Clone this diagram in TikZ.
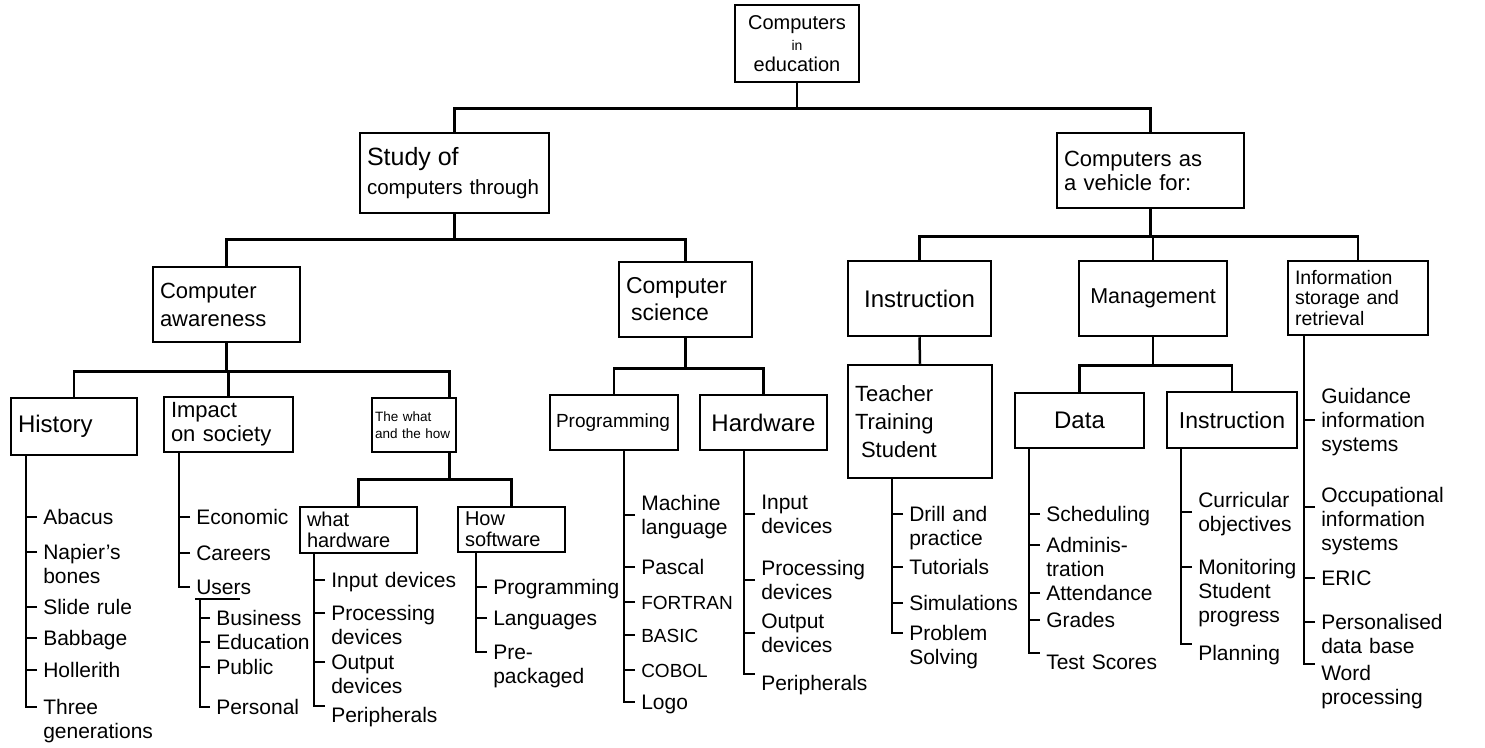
\documentclass[tikz,border=0pt]{standalone}
\usepackage{fontspec}
\setmainfont{Liberation Sans}
\usepackage{tikz}
\tikzstyle{box} = [draw, inner xsep=7pt, inner ysep=3pt, align=left, font=\fontsize{22}{24}\selectfont]
\tikzstyle{leaf} = [anchor=base west, inner sep=0pt, text width=150pt, align=left, font=\fontsize{21}{24}\selectfont]
\tikzstyle{caps} = [leaf, font=\fontsize{19}{24}\selectfont]
\tikzstyle{tk} = [xshift=-5pt, yshift=7pt]
\tikzstyle{tkmid} = [xshift=-5pt, yshift=-5pt]
\tikzstyle{tklow} = [xshift=-5pt, yshift=-17pt]
\tikzstyle{tkup} = [xshift=-5pt, yshift=16pt]

\begin{document}
\begin{tikzpicture}[x=1pt, y=-1pt, line width=2.5pt]
\useasboundingbox (0,0) rectangle (1485,747);

%Boxes
\node[box, text width=110pt, align=center, minimum height=77pt, font=\fontsize{20}{21}\selectfont] (root) at (797,43.5) {Computers\\{\fontsize{14}{14}\selectfont in}\\education};
\node[box, text width=175pt, minimum height=80pt, font=\fontsize{20.5}{29}\selectfont] (study) at (454.5,173) {{\fontsize{25}{29}\selectfont Study of}\\computers through};
\node[box, text width=173pt, minimum height=75pt] (vehicle) at (1150.5,170.5) {Computers as\\a vehicle for:};

\node[box, text width=133pt, minimum height=75pt, font=\fontsize{22}{28}\selectfont] (aware) at (226.5,304.5) {Computer\\awareness};
\node[box, text width=119pt, minimum height=75pt, font=\fontsize{23}{27}\selectfont] (cs) at (685.5,299.5) {Computer\\\hspace*{5pt}science};
\node[box, text width=129pt, minimum height=75pt, align=center, font=\fontsize{24}{24}\selectfont] (instr) at (919.5,298.5) {Instruction};
\node[box, text width=134pt, minimum height=75pt, align=center, font=\fontsize{21.5}{24}\selectfont] (mgmt) at (1153,298.5) {Management};
\node[box, text width=126pt, minimum height=74pt, font=\fontsize{19.5}{20.5}\selectfont] (info) at (1358,298) {Information\\storage and\\retrieval};

\node[box, text width=112pt, minimum height=57pt, font=\fontsize{24}{24}\selectfont] (hist) at (74,426.5) {History};
\node[box, text width=115pt, minimum height=55pt] (impact) at (228.5,424.5) {Impact\\on society};
\node[box, text width=78pt, inner xsep=3pt, minimum height=54pt, font=\fontsize{13.5}{17}\selectfont] (whathow) at (414,425) {The what\\and the how};
\node[box, text width=116pt, inner xsep=6pt, minimum height=55pt, font=\fontsize{19}{20}\selectfont] (prog) at (614,422.5) {Programming};
\node[box, text width=113pt, minimum height=55pt, align=center, font=\fontsize{24}{24}\selectfont] (hw) at (763.5,422.5) {Hardware};
\node[box, text width=130pt, minimum height=113pt, font=\fontsize{22}{28}\selectfont] (teacher) at (920,421.5) {Teacher\\Training\\\hspace*{6pt}Student};
\node[box, text width=115pt, minimum height=55pt, align=center, font=\fontsize{24}{24}\selectfont] (data) at (1079.5,420.5) {Data};
\node[box, text width=116pt, minimum height=56pt, align=center, font=\fontsize{23}{24}\selectfont] (instr2) at (1232,420) {Instruction};

\node[box, text width=103pt, minimum height=46pt, font=\fontsize{20}{21}\selectfont] (what) at (358.5,530) {what\\hardware};
\node[box, text width=93pt, minimum height=45pt, font=\fontsize{20}{21}\selectfont] (how) at (511.5,529.5) {How\\software};

%Tree lines
\draw (root.south) -- ++(0,25) coordinate (b1) -| (study.north);
\draw (b1) -| (vehicle.north);
\draw (study.south) -- ++(0,25) coordinate (b2) -| (aware.north);
\draw (b2) -| (cs.north);
\draw (vehicle.south) -- ++(0,27) coordinate (b3) -| (instr.north);
\draw (b3) -| (mgmt.north);
\draw (b3) -| (info.north);
\draw (aware.south) -- ++(0,28) coordinate (b4) -| (hist.north);
\draw (b4) -| (impact.north);
\draw (b4) -| ([xshift=-8pt]whathow.north east);
\draw (cs.south) -- ++(0,30) coordinate (b5) -| (prog.north);
\draw (b5) -| (hw.north);
\draw (instr.south) -- (teacher.north);
\draw (mgmt.south) -- ++(0,28) coordinate (b6) -| (data.north);
\draw (b6) -| (instr2.north);
\draw ([xshift=-8pt]whathow.south east) -- ++(0,26) coordinate (b7) -| (what.north);
\draw (b7) -| (how.north);

%History
\node[leaf] (abacus) at (42,524) {Abacus};
\node[leaf] (napier) at (42,559) {Napier's\\bones};
\node[leaf] (slide) at (42,614) {Slide rule};
\node[leaf] (babbage) at (42,645) {Babbage};
\node[leaf] (holler) at (42,677) {Hollerith};
\node[leaf] (threegen) at (42,714) {Three\\generations};

%Impact on society
\node[leaf] (econ) at (195,524) {Economic};
\node[leaf] (careers) at (195,560) {Careers};
\node[leaf] (users) at (195,594) {Users};
\node[leaf] (business) at (215,625) {Business};
\node[leaf] (educ) at (215,649) {Education};
\node[leaf] (public) at (215,674) {Public};
\node[leaf] (personal) at (215,714) {Personal};

%what hardware
\node[leaf] (winput) at (330,587) {Input devices};
\node[leaf] (wproc) at (330,620) {Processing\\devices};
\node[leaf] (woutput) at (330,669) {Output\\devices};
\node[leaf] (wperiph) at (330,722) {Peripherals};

%How software
\node[leaf] (sprog) at (492,594) {Programming};
\node[leaf] (slang) at (492,625) {Languages};
\node[leaf] (sprepack) at (492,659) {Pre-\\packaged};

%Programming
\node[leaf] (machine) at (640,510) {Machine\\language};
\node[leaf] (pascal) at (640,574) {Pascal};
\node[caps] (fortran) at (640,609) {FORTRAN};
\node[caps] (basic) at (640,642) {BASIC};
\node[caps] (cobol) at (640,677) {COBOL};
\node[leaf] (logo) at (640,709) {Logo};

%Hardware
\node[leaf] (hinput) at (760,509) {Input\\devices};
\node[leaf] (hproc) at (760,575) {Processing\\devices};
\node[leaf] (houtput) at (760,628) {Output\\devices};
\node[leaf] (hperiph) at (760,690) {Peripherals};

%Teacher
\node[leaf] (drill) at (908,521) {Drill and\\practice};
\node[leaf] (tutor) at (908,574) {Tutorials};
\node[leaf] (simul) at (908,610) {Simulations};
\node[leaf] (problem) at (908,640) {Problem\\Solving};

%Data
\node[leaf] (sched) at (1045,521) {Scheduling};
\node[leaf] (admin) at (1045,552) {Adminis-\\tration};
\node[leaf] (attend) at (1045,600) {Attendance};
\node[leaf] (grades) at (1045,627) {Grades};
\node[leaf] (testsc) at (1045,669) {Test Scores};

%Instruction
\node[leaf] (curric) at (1197,507) {Curricular\\objectives};
\node[leaf] (monit) at (1197,574) {Monitoring\\Student\\progress};
\node[leaf] (plan) at (1197,660) {Planning};

%Information
\node[leaf] (guid) at (1320,403) {Guidance\\information\\systems};
\node[leaf] (occup) at (1320,502) {Occupational\\information\\systems};
\node[leaf] (eric) at (1320,585) {ERIC};
\node[leaf] (pers) at (1320,629) {Personalised\\data base};
\node[leaf] (word) at (1320,680) {Word\\processing};

%Brackets
\coordinate (hb) at ([xshift=16pt]hist.south west);
\coordinate (pb) at ([xshift=16pt]impact.south west);
\coordinate (wb) at ([xshift=15pt]what.south west);
\coordinate (sb) at ([xshift=19pt]how.south west);
\coordinate (gb) at ([xshift=75pt]prog.south west);
\coordinate (rb) at ([xshift=45pt]hw.south west);
\coordinate (tb) at ([xshift=45pt]teacher.south west);
\coordinate (db) at ([xshift=15pt]data.south west);
\coordinate (nb) at ([xshift=15pt]instr2.south west);
\coordinate (ib) at ([xshift=17pt]info.south west);

\draw (hb) |- ([tk]threegen.base west)
  ([tk]abacus.base west) -- ++(-10,0) ([tk]napier.base west) -- ++(-10,0)
  ([tk]slide.base west) -- ++(-10,0) ([tk]babbage.base west) -- ++(-10,0)
  ([tk]holler.base west) -- ++(-10,0);
\draw (pb) |- ([tk]users.base west)
  ([tk]econ.base west) -- ++(-10,0) ([tk]careers.base west) -- ++(-10,0);
\draw ([yshift=-5pt]users.base west) -- ++(45,0);
\draw ([xshift=5pt,yshift=-5pt]users.base west) |- ([tk]personal.base west)
  ([tk]business.base west) -- ++(-10,0) ([tk]educ.base west) -- ++(-10,0)
  ([tk]public.base west) -- ++(-10,0);
\draw (wb) |- ([tkup]wperiph.base west)
  ([tk]winput.base west) -- ++(-10,0) ([tk]wproc.base west) -- ++(-10,0)
  ([tk]woutput.base west) -- ++(-10,0);
\draw (sb) |- ([tk]sprepack.base west)
  ([tk]sprog.base west) -- ++(-10,0) ([tk]slang.base west) -- ++(-10,0);
\draw (gb) |- ([tk]logo.base west)
  ([tkmid]machine.base west) -- ++(-10,0) ([tk]pascal.base west) -- ++(-10,0)
  ([tk]fortran.base west) -- ++(-10,0) ([tk]basic.base west) -- ++(-10,0)
  ([tk]cobol.base west) -- ++(-10,0);
\draw (rb) |- ([tkup]hperiph.base west)
  ([tkmid]hinput.base west) -- ++(-10,0) ([tkmid]hproc.base west) -- ++(-10,0)
  ([tkmid]houtput.base west) -- ++(-10,0);
\draw (tb) |- ([tk]problem.base west)
  ([tk]drill.base west) -- ++(-10,0) ([tk]tutor.base west) -- ++(-10,0)
  ([tk]simul.base west) -- ++(-10,0);
\draw (db) |- ([tkup]testsc.base west)
  ([tk]sched.base west) -- ++(-10,0) ([tk]admin.base west) -- ++(-10,0)
  ([tk]attend.base west) -- ++(-10,0) ([tk]grades.base west) -- ++(-10,0);
\draw (nb) |- ([tkup]plan.base west)
  ([tkmid]curric.base west) -- ++(-10,0) ([tk]monit.base west) -- ++(-10,0);
\draw (ib) |- ([tkup]word.base west)
  ([tklow]guid.base west) -- ++(-10,0) ([tkmid]occup.base west) -- ++(-10,0)
  ([tk]eric.base west) -- ++(-10,0) ([tk]pers.base west) -- ++(-10,0);
\end{tikzpicture}
\end{document}
